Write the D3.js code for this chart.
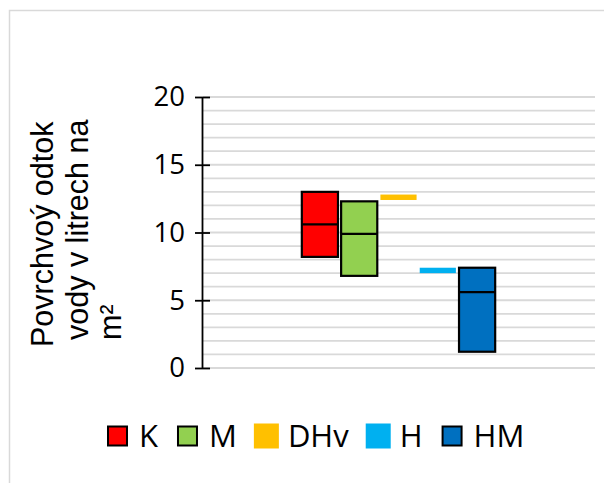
<!DOCTYPE html>
<html>
<head>
<meta charset="utf-8">
<script src="https://cdn.jsdelivr.net/npm/d3@7"></script>
<style>
  html, body { margin: 0; padding: 0; background: #fff; }
  svg { display: block; }
</style>
</head>
<body>
<svg id="chart" width="604" height="483"></svg>
<script>
// Surface runoff per treatment: box from low to high, with a middle line where present
const series = ["K", "M", "DHv", "H", "HM"];
const lowValues = [8.2, 6.8, 12.4, 7.0, 1.2];
const midValues = [10.6, 9.9, null, null, 5.6];
const highValues = [13.0, 12.3, 12.8, 7.4, 7.4];
const seriesColors = ["#ff0000", "#92d050", "#ffc000", "#00b0f0", "#0070c0"];
const outlined = [true, true, false, false, true];
const yTicks = [0, 5, 10, 15, 20];
const gridValues = d3.range(0, 21, 1);
const titleLines = ["Povrchvoý odtok", "vody v litrech na", "m²"];

const svg = d3.select("#chart");
const numFont = "'Open Sans', sans-serif";

// chart frame
svg.append("rect")
  .attr("x", 9.5).attr("y", 10.5)
  .attr("width", 640).attr("height", 520)
  .attr("fill", "none").attr("stroke", "#d9d9d9").attr("stroke-width", 1.5);

const plot = { left: 202, right: 595, top: 97, bottom: 368 };

const y = d3.scaleLinear().domain([0, 20]).range([plot.bottom, plot.top]);

// one category holding all five series side by side
const xCat = d3.scaleBand().domain([""]).range([plot.left, plot.right]).paddingOuter(0.5);
const x = d3.scaleBand().domain(series)
  .range([xCat(""), xCat("") + xCat.bandwidth()])
  .paddingInner(0.08).paddingOuter(0.04);

// gridlines
svg.append("g").selectAll("line").data(gridValues).join("line")
  .attr("x1", plot.left + 1).attr("x2", plot.right)
  .attr("y1", d => y(d)).attr("y2", d => y(d))
  .attr("stroke", "#d9d9d9").attr("stroke-width", 1.8);

// y axis with ticks crossing the line
const yAxis = d3.axisLeft(y).tickValues(yTicks).tickSize(0).tickPadding(17).tickFormat(d3.format("d"));
const gAxis = svg.append("g").attr("transform", `translate(${plot.left},0)`).call(yAxis);
gAxis.select(".domain").attr("stroke", "#000").attr("stroke-width", 1.8);
gAxis.selectAll(".tick line").attr("x1", -7).attr("x2", 8).attr("stroke", "#000").attr("stroke-width", 1.8);
gAxis.selectAll(".tick text").attr("font-family", numFont).attr("font-size", 27.5).attr("fill", "#000");

// boxes
const rows = series.map((s, i) => ({ s, lo: lowValues[i], mid: midValues[i], hi: highValues[i], color: seriesColors[i], outlined: outlined[i] }));
const gBoxes = svg.append("g");
gBoxes.selectAll("rect").data(rows).join("rect")
  .attr("x", d => x(d.s))
  .attr("width", x.bandwidth())
  .attr("y", d => y(d.hi))
  .attr("height", d => y(d.lo) - y(d.hi))
  .attr("fill", d => d.color)
  .attr("stroke", d => d.outlined ? "#000" : "none")
  .attr("stroke-width", 2.2);
gBoxes.selectAll("line").data(rows.filter(d => d.mid !== null)).join("line")
  .attr("x1", d => x(d.s)).attr("x2", d => x(d.s) + x.bandwidth())
  .attr("y1", d => y(d.mid)).attr("y2", d => y(d.mid))
  .attr("stroke", "#000").attr("stroke-width", 2.2);

// y axis title
const titleBaselines = [53, 88, 121];
const titleStarts = [347, 340, 340];
svg.append("g").selectAll("text").data(titleLines).join("text")
  .attr("transform", (d, i) => `translate(${titleBaselines[i]},${titleStarts[i]}) rotate(-90)`)
  .attr("font-family", "'Liberation Sans', Arial, sans-serif")
  .attr("font-size", 30.5)
  .attr("fill", "#000")
  .text(d => d);

// legend
const legend = svg.append("g").attr("transform", "translate(107,436)");
let cursor = 0;
rows.forEach(d => {
  const item = legend.append("g").attr("transform", `translate(${cursor},0)`);
  if (d.outlined) {
    item.append("rect").attr("x", 1).attr("y", -9.5).attr("width", 19).attr("height", 19)
      .attr("fill", d.color).attr("stroke", "#000").attr("stroke-width", 2);
  } else {
    item.append("rect").attr("x", -2).attr("y", -12.5).attr("width", 25).attr("height", 25)
      .attr("fill", d.color);
  }
  const t = item.append("text").attr("x", 32).attr("y", 0).attr("dy", "0.36em")
    .attr("font-family", numFont).attr("font-size", 31).attr("fill", "#000").text(d.s);
  cursor += 32 + t.node().getComputedTextLength() + 19;
});
</script>
</body>
</html>
